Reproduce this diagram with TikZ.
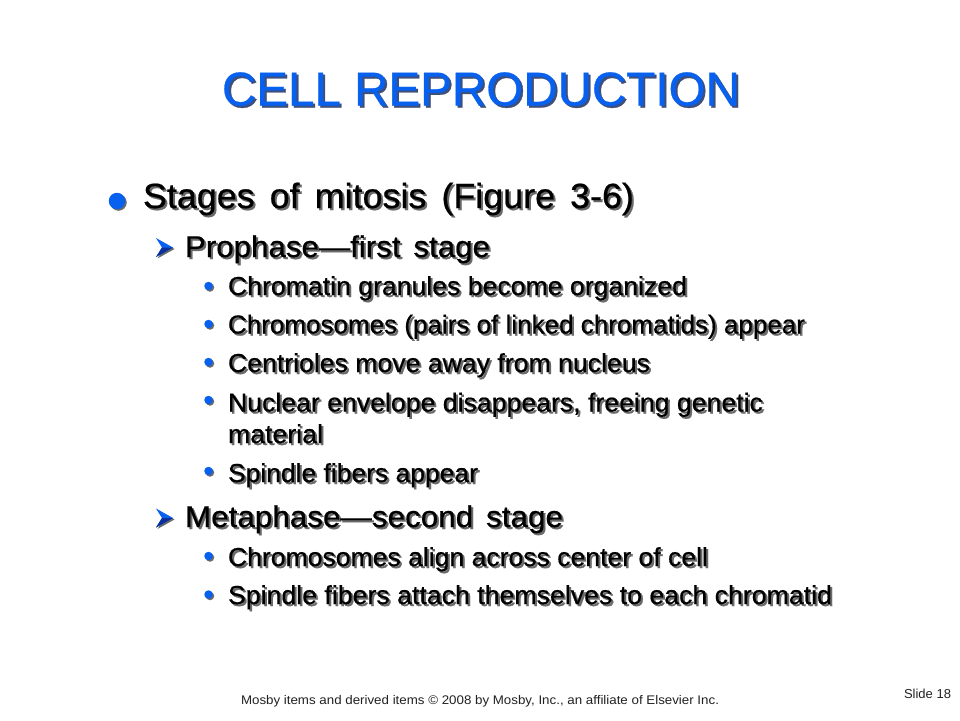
\documentclass[tikz,border=0pt]{standalone}
\usepackage{fontspec}
\setmainfont{Liberation Sans}
\definecolor{slideblue}{HTML}{0860EE}
\definecolor{deepblue}{HTML}{0A2F9A}
\definecolor{softshadow}{HTML}{6A6A6A}
\definecolor{titleshadow}{HTML}{3F4F78}
\definecolor{footgrey}{HTML}{222222}
\tikzset{
  line/.style={anchor=base west,inner sep=0pt,outer sep=0pt},
  dotmark/.style={circle,fill=slideblue,inner sep=0pt,minimum size=#1},
  dotshadow/.style={circle,fill=softshadow,inner sep=0pt,minimum size=#1}
}
\newsavebox{\linebox}
\newcommand{\fitline}[4]{% font size, width, colour, text (scaled to the width)
  \sbox{\linebox}{\fontsize{#1}{#1}\selectfont #4}%
  \pgfmathsetmacro{\fitx}{#2/(\the\wd\linebox/1pt)}%
  \scalebox{\fitx}[1]{\textcolor{#3}{\fontsize{#1}{#1}\selectfont #4}}}
\newcommand{\shadowline}[8]{% name,x,y,size,width,colour,shadowcolour,text
  \node[line] (#1s) at (#2+2,#3+2) {\fitline{#4}{#5}{#7}{\addfontfeature{FakeBold=0.6}#8}};
  \node[line] (#1) at (#2,#3) {\fitline{#4}{#5}{#6}{\addfontfeature{FakeBold=0.6}#8}};}
\newcommand{\arrowmark}[3]{% name,x,y (tip)
  \coordinate (#1) at (#2,#3);
  \fill[softshadow] ([shift={(-15.5,-8)}]#1) -- ++(17,9.5) -- ++(-17,9.5) -- ++(6,-9.5) -- cycle;
  \fill[slideblue] ([shift={(-17,-9.5)}]#1) -- ++(17,9.5) -- ++(-17,9.5) -- ++(6,-9.5) -- cycle;
  \fill[deepblue] ([shift={(-11,0)}]#1) -- ++(11,0) -- ++(-17,9.5) -- cycle;}
\newcommand{\roundmark}[4]{% name,x,y,size
  \node[dotshadow=#4] (#1s) at (#2+1.5,#3+1.5) {};
  \node[dotmark=#4] (#1) at (#2,#3) {};}
\begin{document}
\begin{tikzpicture}[x=1pt,y=-1pt]
\useasboundingbox (0,0) rectangle (960,720);
\fill[white] (0,0) rectangle (960,720);
\shadowline{title}{222}{105.5}{47.5}{518}{slideblue}{titleshadow}{CELL REPRODUCTION}
\roundmark{b0}{117}{201}{16.5pt}
\shadowline{l0}{143}{208}{35}{491}{black}{softshadow}{Stages\hspace{5pt} of\hspace{5pt} mitosis\hspace{5pt} (Figure\hspace{5pt} 3-6)}
\arrowmark{a1}{173}{247.5}
\shadowline{l1}{185}{257}{30}{305}{black}{softshadow}{Prophase—first\hspace{4pt} stage}
\roundmark{b1}{208.5}{286}{8.5pt}
\shadowline{l2}{228}{295}{26}{459}{black}{softshadow}{Chromatin granules become organized}
\roundmark{b2}{208.5}{324}{8.5pt}
\shadowline{l3}{228}{333.5}{26}{577}{black}{softshadow}{Chromosomes (pairs of linked chromatids) appear}
\roundmark{b3}{208.5}{362}{8.5pt}
\shadowline{l4}{228}{372}{26}{422}{black}{softshadow}{Centrioles move away from nucleus}
\roundmark{b4}{208.5}{400}{8.5pt}
\shadowline{l5}{228}{411.5}{26}{535}{black}{softshadow}{Nuclear envelope disappears, freeing genetic}
\shadowline{l6}{228}{443}{26}{95}{black}{softshadow}{material}
\roundmark{b5}{208.5}{471}{8.5pt}
\shadowline{l7}{228}{482}{26}{250}{black}{softshadow}{Spindle fibers appear}
\arrowmark{a2}{173}{518}
\shadowline{l8}{185}{527}{30}{378}{black}{softshadow}{Metaphase—second\hspace{4pt} stage}
\roundmark{b6}{208.5}{556}{8.5pt}
\shadowline{l9}{228}{566}{26}{480}{black}{softshadow}{Chromosomes align across center of cell}
\roundmark{b7}{208.5}{594.5}{8.5pt}
\shadowline{l10}{228}{604}{26}{604}{black}{softshadow}{Spindle fibers attach themselves to each chromatid}
\node[line] (foot) at (241,704) {\fitline{12.5}{478}{footgrey}{Mosby items and derived items © 2008 by Mosby, Inc., an affiliate of Elsevier Inc.}};
\node[line] (slide) at (904,698) {\fitline{13}{47}{footgrey}{Slide 18}};
\end{tikzpicture}
\end{document}
